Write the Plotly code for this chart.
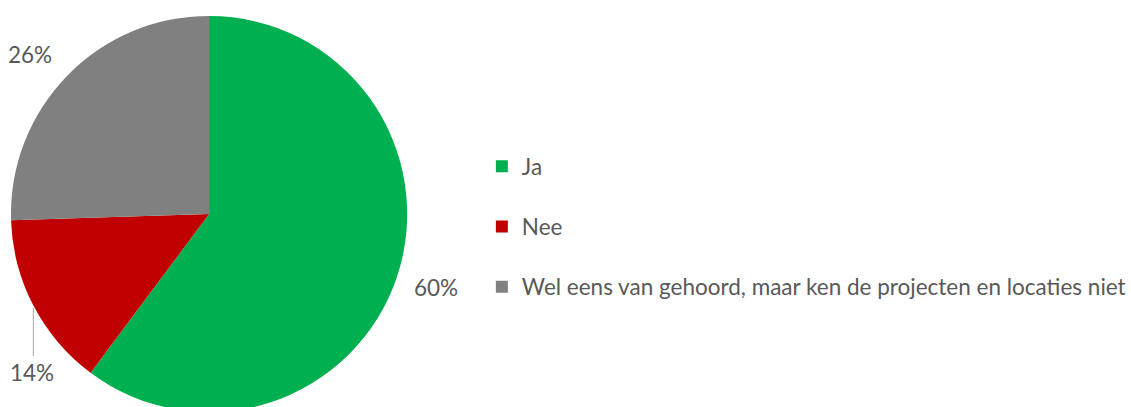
import math
import plotly.graph_objects as go

categories = ["Ja", "Nee", "Wel eens van gehoord, maar ken de projecten en locaties niet"]
values = [60.2, 14.3, 25.5]
colors = ["#00B050", "#C00000", "#808080"]

W, H = 1131, 430
FONT = "Lato"
TXT = "#595959"
FS = 22.5

def px(x):
    return x / W

def py(y):
    return 1 - y / H

# pie geometry (pixels)
cx, cy, r = 210, 214, 199

fig = go.Figure()
fig.add_trace(go.Pie(
    labels=categories, values=values, sort=False, direction="clockwise", rotation=0,
    marker=dict(colors=colors, line=dict(width=0)),
    textinfo="none", hoverinfo="label+percent", showlegend=False,
    domain=dict(x=[px(cx - r), px(cx + r)], y=[py(cy + r), py(cy - r)]),
))

# legend via dummy traces
for i, (c, col) in enumerate(zip(categories, colors)):
    fig.add_trace(go.Scatter(
        x=[None], y=[None], mode="markers", name=c, legendgroup=f"g{i}",
        marker=dict(symbol="square", size=10, color=col),
    ))

# percentage labels computed from slice mid-angles
total = sum(values)
start = 0.0
label_factor = [1.2, None, 1.21]
label_nudge = [(1, -2), (0, 0), (-7, 8)]
annotations = []
for i, v in enumerate(values):
    ang = start + v / total * 360 / 2
    start += v / total * 360
    pct = f"{round(v / total * 100)}%"
    if label_factor[i] is not None:
        a = math.radians(ang)
        lx = cx + label_factor[i] * r * math.sin(a) + label_nudge[i][0]
        ly = cy - label_factor[i] * r * math.cos(a) + label_nudge[i][1]
    else:
        lx, ly = 32, 372  # manually moved label (with leader line)
    annotations.append(dict(x=px(lx), y=py(ly), xref="paper", yref="paper", text=pct,
                            showarrow=False, xanchor="center", yanchor="middle",
                            font=dict(family=FONT, size=FS, color=TXT)))

fig.update_layout(
    width=W, height=H,
    margin=dict(l=0, r=0, t=0, b=0),
    paper_bgcolor="white", plot_bgcolor="white",
    xaxis=dict(visible=False), yaxis=dict(visible=False),
    showlegend=True,
    legend=dict(x=px(484), y=py(145), xanchor="left", yanchor="top",
                font=dict(family=FONT, size=FS, color=TXT),
                tracegroupgap=28, itemsizing="constant", bgcolor="rgba(0,0,0,0)"),
    annotations=annotations,
    shapes=[dict(type="line", xref="paper", yref="paper",
                 x0=px(33.5), x1=px(33.5), y0=py(308), y1=py(356),
                 line=dict(color="#A6A6A6", width=1))],
)

fig.write_html("out.html", config={"displayModeBar": False},
               post_script="document.body.style.margin='0';document.body.style.overflow='hidden';document.documentElement.style.overflow='hidden';")
